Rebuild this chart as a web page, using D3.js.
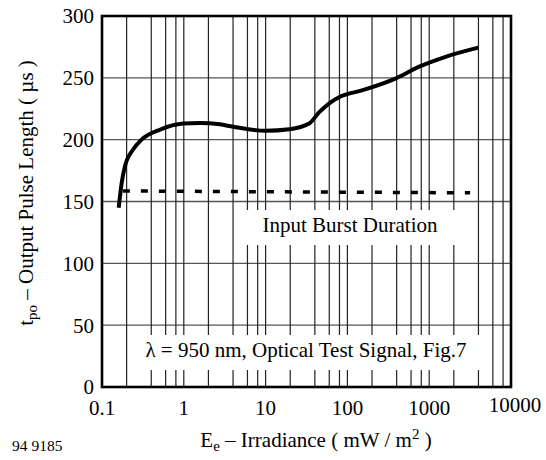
<!DOCTYPE html>
<html>
<head>
<meta charset="utf-8">
<script src="https://cdn.jsdelivr.net/npm/d3@7"></script>
<style>
  body { margin: 0; background: #fff; }
  text { font-family: "Liberation Serif", "Times New Roman", serif; fill: #000; }
</style>
</head>
<body>
<div id="content"></div>
<script>
// data
var irradiance = [0.16, 0.174, 0.19, 0.24, 0.305, 0.51, 0.98, 1.6, 2.75, 4, 10, 19.6, 34, 45, 60, 80, 154, 392, 755, 1585, 3980];
var pulseLength = [145, 165, 178, 192, 200, 208, 213, 213.5, 212.4, 210.5, 207.2, 208.4, 213, 222, 229.4, 234.5, 240, 249.6, 259, 267, 274.4];

var burstX = [0.18, 3160];
var burstY = [158.5, 157];

var xTicks = [0.1, 1, 10, 100, 1000, 10000];
var yTicks = [0, 50, 100, 150, 200, 250, 300];

// vertical gridlines: 1, 2, 4, 6, 8 of every decade
var gridX = [];
xTicks.forEach(function(d) {
    [1, 2, 4, 6, 8].forEach(function(m) {
        if (d * m <= 10000) gridX.push(d * m);
    });
});

var svg = d3.select("#content")
    .append("svg")
    .attr("width", 546)
    .attr("height", 460);

var x = d3.scaleLog()
    .domain([0.1, 10000])
    .range([102, 511]);

var y = d3.scaleLinear()
    .domain([0, 300])
    .range([387, 16]);

// grid
svg.append("g").selectAll("line")
    .data(yTicks.slice(1, -1))
    .enter().append("line")
    .attr("x1", 102).attr("x2", 511)
    .attr("y1", d => y(d)).attr("y2", d => y(d))
    .attr("stroke", "#555").attr("stroke-width", 1.3);

svg.append("g").selectAll("line")
    .data(gridX)
    .enter().append("line")
    .attr("x1", d => x(d)).attr("x2", d => x(d))
    .attr("y1", 16).attr("y2", 387)
    .attr("stroke", "#222").attr("stroke-width", 1.2);

// white label boxes cut the grid
svg.append("rect").attr("x", 240).attr("y", 210).attr("width", 226).attr("height", 35).attr("fill", "#fff");
svg.append("rect").attr("x", 140).attr("y", 335).attr("width", 346).attr("height", 35).attr("fill", "#fff");

svg.append("text")
    .attr("x", 350).attr("y", 232)
    .attr("text-anchor", "middle")
    .attr("font-size", 21)
    .text("Input Burst Duration");

svg.append("text")
    .attr("x", 306).attr("y", 357)
    .attr("text-anchor", "middle")
    .attr("font-size", 21)
    .text("λ = 950 nm, Optical Test Signal, Fig.7");

// frame
svg.append("rect")
    .attr("x", 102).attr("y", 16)
    .attr("width", 409).attr("height", 371)
    .attr("fill", "none")
    .attr("stroke", "#000")
    .attr("stroke-width", 2.6);

// curves
var line = d3.line()
    .x(d => x(d[0]))
    .y(d => y(d[1]))
    .curve(d3.curveMonotoneX);

svg.append("path")
    .datum(d3.zip(irradiance, pulseLength))
    .attr("d", line)
    .attr("fill", "none")
    .attr("stroke", "#000")
    .attr("stroke-width", 4);

svg.append("path")
    .datum(d3.zip(burstX, burstY))
    .attr("d", line)
    .attr("fill", "none")
    .attr("stroke", "#000")
    .attr("stroke-width", 3.5)
    .attr("stroke-dasharray", "7,11");

// tick labels
svg.append("g").selectAll("text")
    .data(yTicks)
    .enter().append("text")
    .attr("x", 94)
    .attr("y", d => y(d))
    .attr("dy", "0.35em")
    .attr("text-anchor", "end")
    .attr("font-size", 21)
    .text(d => d);

svg.append("g").selectAll("text")
    .data(xTicks)
    .enter().append("text")
    .attr("x", d => x(d) + (d == 10000 ? 4 : 0))
    .attr("y", d => d == 10000 ? 412 : 415)
    .attr("text-anchor", "middle")
    .attr("font-size", 21)
    .text(d => d == 0.1 ? "0.1" : d);

// axis titles
var xt = svg.append("text")
    .attr("x", 316).attr("y", 447)
    .attr("text-anchor", "middle")
    .attr("font-size", 21);
xt.append("tspan").text("E");
xt.append("tspan").attr("font-size", 15).attr("dy", 4).text("e");
xt.append("tspan").attr("dy", -4).text(" – Irradiance ( mW / m");
xt.append("tspan").attr("font-size", 15).attr("dy", -8).text("2");
xt.append("tspan").attr("dy", 8).text(" )");

var yt = svg.append("text")
    .attr("transform", "translate(33,193) rotate(-90)")
    .attr("text-anchor", "middle")
    .attr("font-size", 21);
yt.append("tspan").text("t");
yt.append("tspan").attr("font-size", 15).attr("dy", 4).text("po");
yt.append("tspan").attr("dy", -4).text(" – Output Pulse Length ( µs )");

svg.append("text")
    .attr("x", 12).attr("y", 451)
    .attr("font-size", 15.5)
    .text("94 9185");
</script>
</body>
</html>
